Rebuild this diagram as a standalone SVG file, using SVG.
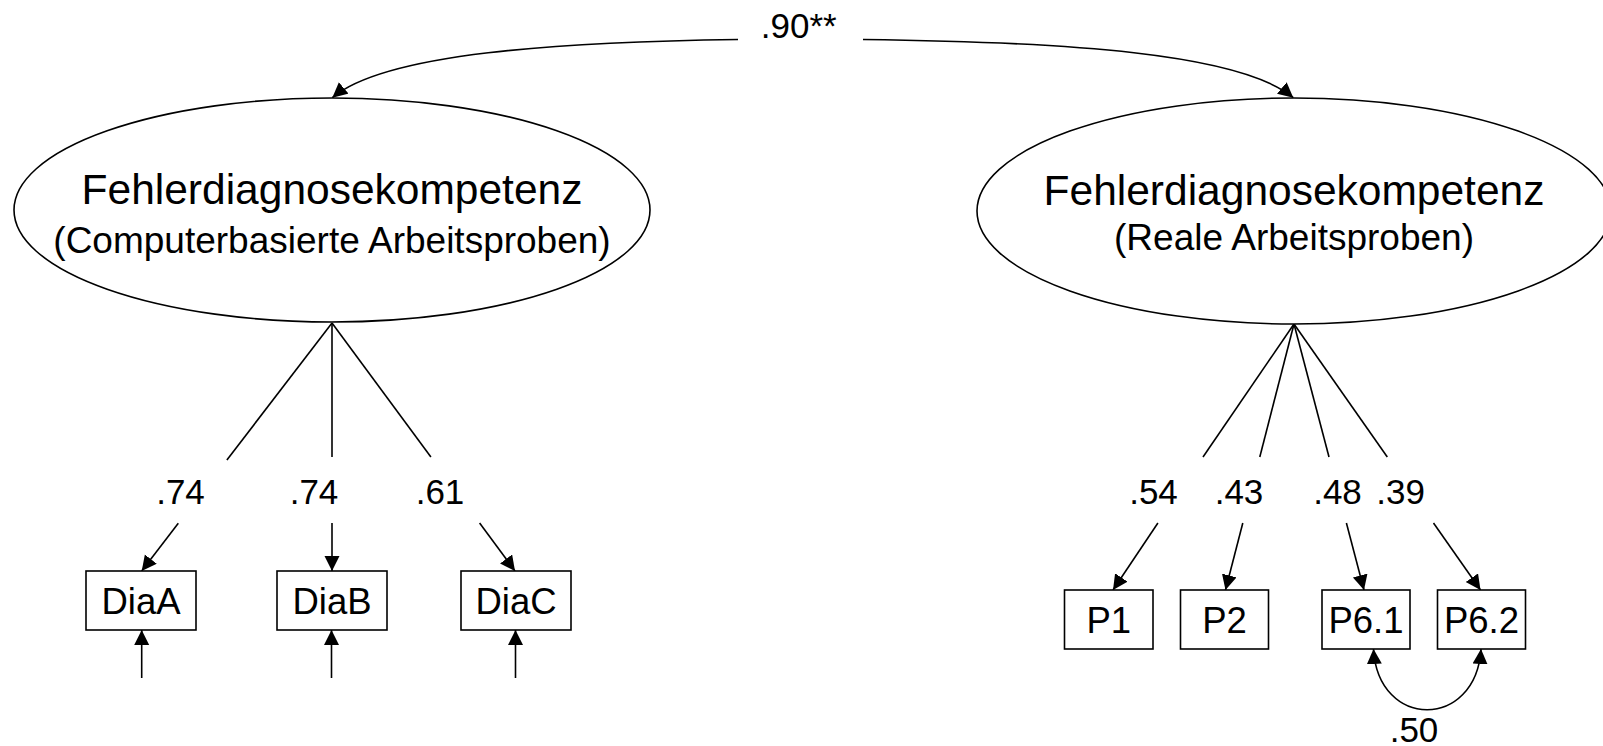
<svg xmlns="http://www.w3.org/2000/svg" width="1603" height="746" viewBox="0 0 1603 746">
  <style>
    .shape { fill: #ffffff; stroke: #000000; stroke-width: 1.6; }
    .edge { fill: none; stroke: #000000; stroke-width: 1.6; }
    .arrow { marker-end: url(#head); }
    .txt { font-family: "Liberation Sans", Arial, sans-serif; fill: #000000; text-anchor: middle; }
    .big { font-size: 42.5px; }
    .sub { font-size: 37px; }
    .lbl { font-size: 35px; }
    .box { font-size: 36.5px; }
  </style>
  <defs>
    <marker id="head" markerUnits="userSpaceOnUse" markerWidth="17" markerHeight="16" refX="15" refY="7.5" orient="auto-start-reverse">
      <path d="M0,0 L15,7.5 L0,15 z" fill="#000000"/>
    </marker>
  </defs>

  <rect x="0" y="0" width="1603" height="746" fill="#ffffff"/>

  <!-- connectors -->
  <g id="connectors">
    <!-- correlation between the two latent factors -->
    <path class="edge arrow" d="M738,39.5 C560,42 385,53 332.3,97.7"/>
    <path class="edge arrow" d="M863,39.5 C1065,42 1240,53 1293.3,97.7"/>

    <!-- loadings, computer-based work samples -->
    <path class="edge" d="M332,323 L226.9,460"/>
    <path class="edge arrow" d="M178.3,523.3 L141.7,571"/>
    <path class="edge" d="M332,323 L332,457"/>
    <path class="edge arrow" d="M332,523 L332,571"/>
    <path class="edge" d="M332,323 L430.9,457"/>
    <path class="edge arrow" d="M479.6,523 L515,571"/>

    <!-- residual arrows -->
    <path class="edge arrow" d="M141.7,678 L141.7,630"/>
    <path class="edge arrow" d="M331.5,678 L331.5,630"/>
    <path class="edge arrow" d="M515.5,678 L515.5,630"/>

    <!-- loadings, real work samples -->
    <path class="edge" d="M1294,324 L1203,457"/>
    <path class="edge arrow" d="M1157.9,523 L1113,590"/>
    <path class="edge" d="M1294,324 L1259.8,457"/>
    <path class="edge arrow" d="M1242.8,523 L1225.5,590"/>
    <path class="edge" d="M1294,324 L1329,457"/>
    <path class="edge arrow" d="M1346.4,523 L1364,590"/>
    <path class="edge" d="M1294,324 L1387.3,457"/>
    <path class="edge arrow" d="M1433.5,523 L1480.5,590"/>

    <!-- residual covariance P6.1 / P6.2 -->
    <path class="edge" marker-start="url(#head)" marker-end="url(#head)" d="M1373.5,649 C1378,730 1476,730 1481,649"/>
  </g>

  <!-- path labels -->
  <g id="labels" class="txt lbl">
    <text x="798.7" y="38.3">.90**</text>
    <text x="180.5" y="504">.74</text>
    <text x="314" y="504">.74</text>
    <text x="440" y="504">.61</text>
    <text x="1153.5" y="504">.54</text>
    <text x="1239" y="504">.43</text>
    <text x="1337.5" y="504">.48</text>
    <text x="1400.6" y="504">.39</text>
    <text x="1414" y="742">.50</text>
  </g>

  <!-- latent factors -->
  <g id="factor-computer">
    <ellipse class="shape" cx="332" cy="210" rx="318" ry="112"/>
    <text class="txt big" x="332" y="204">Fehlerdiagnosekompetenz</text>
    <text class="txt sub" x="332" y="253">(Computerbasierte Arbeitsproben)</text>
  </g>
  <g id="factor-real">
    <ellipse class="shape" cx="1294" cy="211" rx="317" ry="113"/>
    <text class="txt big" x="1294" y="205">Fehlerdiagnosekompetenz</text>
    <text class="txt sub" x="1294" y="250">(Reale Arbeitsproben)</text>
  </g>

  <!-- indicators -->
  <g id="DiaA">
    <rect class="shape" x="86" y="571" width="110" height="59"/>
    <text class="txt box" x="141" y="614">DiaA</text>
  </g>
  <g id="DiaB">
    <rect class="shape" x="277" y="571" width="110" height="59"/>
    <text class="txt box" x="332" y="614">DiaB</text>
  </g>
  <g id="DiaC">
    <rect class="shape" x="461" y="571" width="110" height="59"/>
    <text class="txt box" x="516" y="614">DiaC</text>
  </g>
  <g id="P1">
    <rect class="shape" x="1064.5" y="590" width="88.5" height="59"/>
    <text class="txt box" x="1108.8" y="632.5">P1</text>
  </g>
  <g id="P2">
    <rect class="shape" x="1180.5" y="590" width="88" height="59"/>
    <text class="txt box" x="1224.5" y="632.5">P2</text>
  </g>
  <g id="P6.1">
    <rect class="shape" x="1322" y="590" width="88" height="59"/>
    <text class="txt box" x="1366" y="632.5">P6.1</text>
  </g>
  <g id="P6.2">
    <rect class="shape" x="1437.5" y="590" width="88" height="59"/>
    <text class="txt box" x="1481.5" y="632.5">P6.2</text>
  </g>
</svg>
